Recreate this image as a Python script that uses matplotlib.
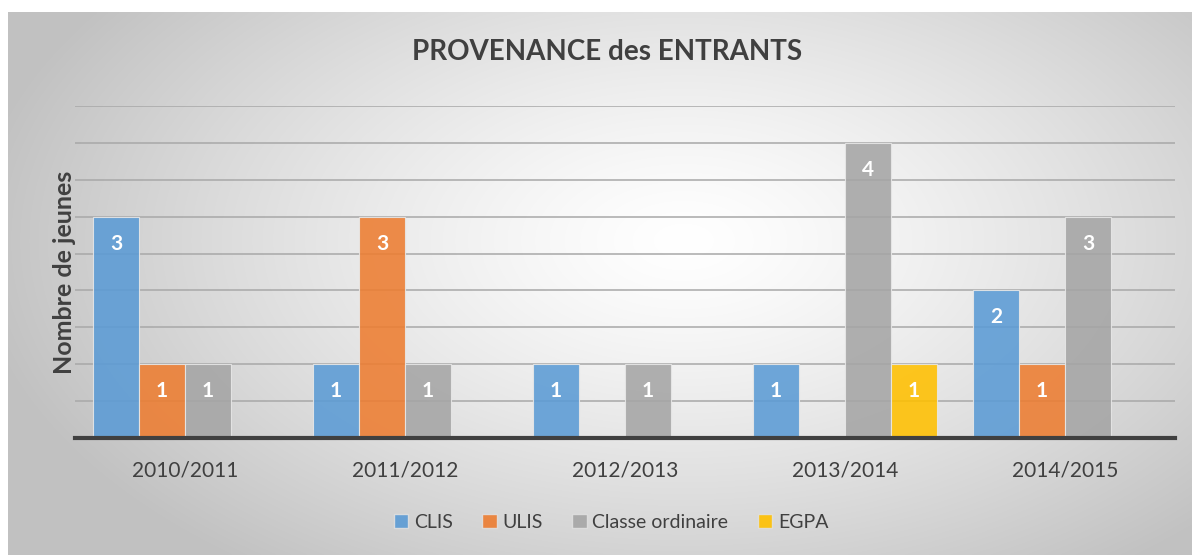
import numpy as np
import matplotlib.pyplot as plt
from matplotlib.patches import Patch

# data
annees = ['2010/2011', '2011/2012', '2012/2013', '2013/2014', '2014/2015']
series = ['CLIS', 'ULIS', 'Classe ordinaire', 'EGPA']
clis = [3, 1, 1, 1, 2]
ulis = [1, 3, 0, 0, 1]
classe_ord = [1, 1, 1, 4, 3]
egpa = [0, 0, 0, 1, 0]
couleurs = ['#5B9BD5', '#ED7D31', '#A5A5A5', '#FFC000']

plt.rcParams['font.family'] = ['Lato', 'DejaVu Sans']

fig = plt.figure(figsize=(11.92, 5.58), dpi=100)

# background with radial gradient
bg = fig.add_axes([8/1192, 3/558, 1184/1192, 543/558])
ny, nx = 300, 600
yy, xx = np.mgrid[0:ny, 0:nx]
cx, cy = nx*0.57, ny*0.42
r = np.sqrt(((xx-cx)/(nx*0.6))**2 + ((yy-cy)/(ny*0.75))**2)
r = np.clip(r, 0, 1)
val = 1.0 - 0.24*r**1.3
img = np.dstack([val, val, val])
bg.imshow(img, aspect='auto', extent=[0, 1, 0, 1], interpolation='bilinear')
bg.set_xlim(0, 1)
bg.set_ylim(0, 1)
bg.axis('off')

ax = fig.add_axes([75/1192, 120/558, 1100/1192, 332/558])
ax.patch.set_alpha(0)

x = np.arange(len(annees))
w = 0.209
data = [clis, ulis, classe_ord, egpa]
for k, (vals, c) in enumerate(zip(data, couleurs)):
    pos = x + (k-1.5)*w
    bars = ax.bar(pos, vals, width=w, color=c, alpha=0.88, edgecolor='#e8e8e8',
                  linewidth=0.8, zorder=3)
    for xi, v in zip(pos, vals):
        if v > 0:
            ax.annotate(str(v), (xi, v), xytext=(0, -27), textcoords='offset pixels',
                        ha='center', va='center', color='white', fontsize=15,
                        fontweight='bold', zorder=4)

ax.set_xlim(-0.5, 4.5)
ax.set_ylim(0, 4.5)
ax.set_yticks(np.arange(0.5, 4.6, 0.5))
ax.yaxis.grid(True, color='#a8a8a8', linewidth=1.1, zorder=1)
ax.set_yticklabels([])
ax.tick_params(axis='y', length=0)
ax.tick_params(axis='x', length=0, pad=16, labelsize=15, labelcolor='#404040')
ax.set_xticks(x)
ax.set_xticklabels(annees)
for s in ['top', 'right', 'left']:
    ax.spines[s].set_visible(False)
ax.spines['bottom'].set_color('#404040')
ax.spines['bottom'].set_linewidth(3)
ax.spines['bottom'].set_zorder(5)
ax.set_ylabel('Nombre de jeunes', fontsize=18, fontweight='bold', color='#404040', labelpad=-4)

fig.text(607/1192, 1-52/558, 'PROVENANCE des ENTRANTS', ha='center', va='center',
         fontsize=20, fontweight='bold', color='#404040')

handles = [Patch(facecolor=c, edgecolor='#e0e0e0', alpha=0.9) for c in couleurs]
fig.legend(handles, series, loc='center', bbox_to_anchor=(611/1192, 1-522/558),
           ncol=4, frameon=False, fontsize=14, handlelength=0.75, handleheight=0.75,
           handletextpad=0.3, columnspacing=1.5, labelcolor='#404040')

fig.savefig('out.png', dpi=100)
